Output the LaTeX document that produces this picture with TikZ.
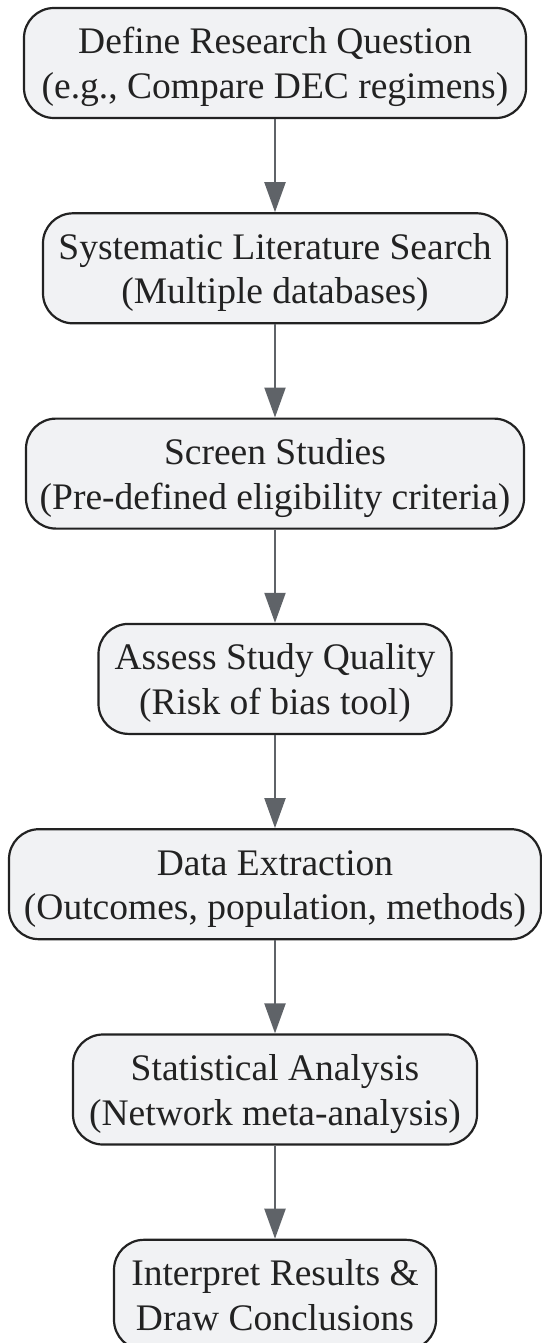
\documentclass[tikz,border=0pt]{standalone}
\usepackage{fontspec}
\setmainfont{Liberation Serif}
\usetikzlibrary{arrows.meta}
\definecolor{boxfill}{HTML}{F1F2F4}
\definecolor{boxline}{HTML}{222222}
\definecolor{arrowgray}{HTML}{5F6368}
\tikzset{
  stepbox/.style = {draw=boxline, line width=2.2pt, fill=boxfill, rounded corners=30pt,
    align=center, minimum height=110pt, inner sep=0pt, text=boxline,
    text height=81pt, text depth=10pt,
    font=\fontsize{37.5}{44.5}\selectfont},
  flowarrow/.style = {draw=arrowgray, line width=2.2pt, -{Triangle[length=30pt,width=21pt]}}
}
\begin{document}
\begin{tikzpicture}[x=1pt,y=1pt]
\useasboundingbox (0,0) rectangle (541,-1343);
%% boksene
\node [stepbox, minimum width=502pt] (question)   at (275,-63)     {Define Research Question\\(e.g., Compare DEC regimens)};
\node [stepbox, minimum width=464pt] (search)     at (275,-268.3)  {Systematic Literature Search\\(Multiple databases)};
\node [stepbox, minimum width=498pt] (screen)     at (275,-473.6)  {Screen Studies\\(Pre-defined eligibility criteria)};
\node [stepbox, minimum width=353pt] (quality)    at (275,-678.9)  {Assess Study Quality\\(Risk of bias tool)};
\node [stepbox, minimum width=532pt] (extraction) at (275,-884.2)  {Data Extraction\\(Outcomes, population, methods)};
\node [stepbox, minimum width=404pt] (analysis)   at (275,-1089.5) {Statistical Analysis\\(Network meta-analysis)};
\node [stepbox, minimum width=322pt] (interpret)  at (275,-1294.8) {Interpret Results \&\\Draw Conclusions};
%% piler
\draw [flowarrow] (question)   -- (search);
\draw [flowarrow] (search)     -- (screen);
\draw [flowarrow] (screen)     -- (quality);
\draw [flowarrow] (quality)    -- (extraction);
\draw [flowarrow] (extraction) -- (analysis);
\draw [flowarrow] (analysis)   -- (interpret);
\end{tikzpicture}
\end{document}
